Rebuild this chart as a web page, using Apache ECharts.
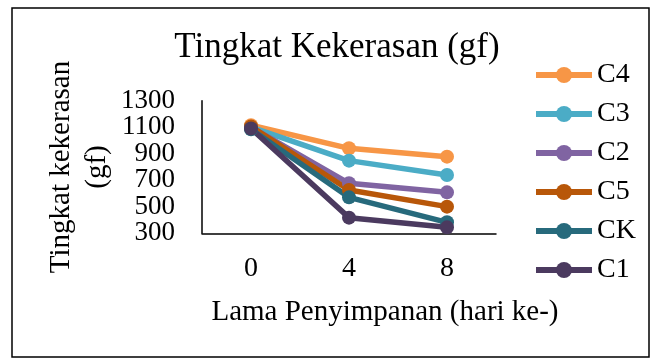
<!DOCTYPE html>
<html>
<head>
<meta charset="utf-8">
<script src="https://cdn.jsdelivr.net/npm/echarts@6/dist/echarts.min.js"></script>
<style>
  html, body { margin: 0; padding: 0; background: #fff; }
  #chart { width: 651px; height: 358px; }
</style>
</head>
<body>
<div id="chart"></div>
<script>
const days = ['0', '4', '8'];
const seriesNames = ['C4', 'C3', 'C2', 'C5', 'CK', 'C1'];
const seriesColors = ['#f79646', '#4bacc6', '#8064a2', '#b85709', '#276a7c', '#4b3a5f'];
const c4 = [1115, 941, 878];
const c3 = [1100, 848, 740];
const c2 = [1100, 677, 609];
const c5 = [1105, 627, 501];
const ck = [1085, 571, 383];
const c1 = [1090, 418, 345];
const seriesValues = [c4, c3, c2, c5, ck, c1];
const yTicks = { min: 300, max: 1300, step: 200 };

const font = 'Liberation Serif';
const chart = echarts.init(document.getElementById('chart'));

// labels are 27px tall on a 26.6px step, so split them over two stacked
// axes (even / odd ticks) to stop echarts hiding the ones that touch
function yLabels(keepEven) {
  return {
    fontFamily: font, fontSize: 27, color: '#000', margin: 27,
    showMinLabel: true, showMaxLabel: true,
    formatter: v => {
      const even = Math.round((v - yTicks.min) / yTicks.step) % 2 === 0;
      return even === keepEven ? String(v) : '';
    }
  };
}

chart.setOption({
  animation: false,
  title: {
    text: 'Tingkat Kekerasan (gf)',
    left: 337,
    top: 30,
    textAlign: 'center',
    padding: 0,
    textStyle: { fontFamily: font, fontSize: 35, fontWeight: 'normal', color: '#000', lineHeight: 36 }
  },
  legend: {
    orient: 'vertical',
    left: 533,
    top: 61,
    padding: 0,
    itemWidth: 56,
    itemHeight: 20,
    itemGap: 11,
    data: seriesNames,
    lineStyle: { width: 6 },
    textStyle: { fontFamily: font, fontSize: 28, color: '#000', lineHeight: 28 }
  },
  grid: { left: 202, top: 100.7, right: 155, bottom: 124.7 },
  xAxis: {
    type: 'category',
    data: days,
    boundaryGap: true,
    name: 'Lama Penyimpanan (hari ke-)',
    nameLocation: 'middle',
    nameGap: 64,
    nameTextStyle: { fontFamily: font, fontSize: 29, color: '#000', lineHeight: 30, padding: [0, 0, 0, 72] },
    axisLine: { lineStyle: { color: '#000', width: 1.5 } },
    axisTick: { show: false },
    axisLabel: { fontFamily: font, fontSize: 28, color: '#000', margin: 21, lineHeight: 28 }
  },
  yAxis: [{
    type: 'value',
    position: 'left',
    min: yTicks.min,
    max: yTicks.max,
    interval: yTicks.step,
    name: 'Tingkat kekerasan\n(gf)',
    nameLocation: 'middle',
    nameRotate: 90,
    nameGap: 87,
    nameTextStyle: { fontFamily: font, fontSize: 29, color: '#000', lineHeight: 36 },
    axisLine: { show: true, lineStyle: { color: '#000', width: 1.5 } },
    axisTick: { show: false },
    splitLine: { show: false },
    axisLabel: yLabels(true)
  }, {
    type: 'value',
    position: 'left',
    offset: 0,
    min: yTicks.min,
    max: yTicks.max,
    interval: yTicks.step,
    axisLine: { show: false },
    axisTick: { show: false },
    splitLine: { show: false },
    axisLabel: yLabels(false)
  }],
  graphic: [{
    type: 'rect',
    shape: { x: 12, y: 8, width: 637, height: 349 },
    style: { fill: null, stroke: '#000', lineWidth: 1.5 },
    silent: true
  }],
  series: seriesNames.map((name, i) => ({
    name: name,
    type: 'line',
    yAxisIndex: 0,
    data: seriesValues[i],
    symbol: 'circle',
    symbolSize: 14,
    showAllSymbol: true,
    color: seriesColors[i],
    lineStyle: { width: 5.5, color: seriesColors[i] },
    itemStyle: { color: seriesColors[i] },
    emphasis: { disabled: true }
  }))
});
</script>
</body>
</html>
